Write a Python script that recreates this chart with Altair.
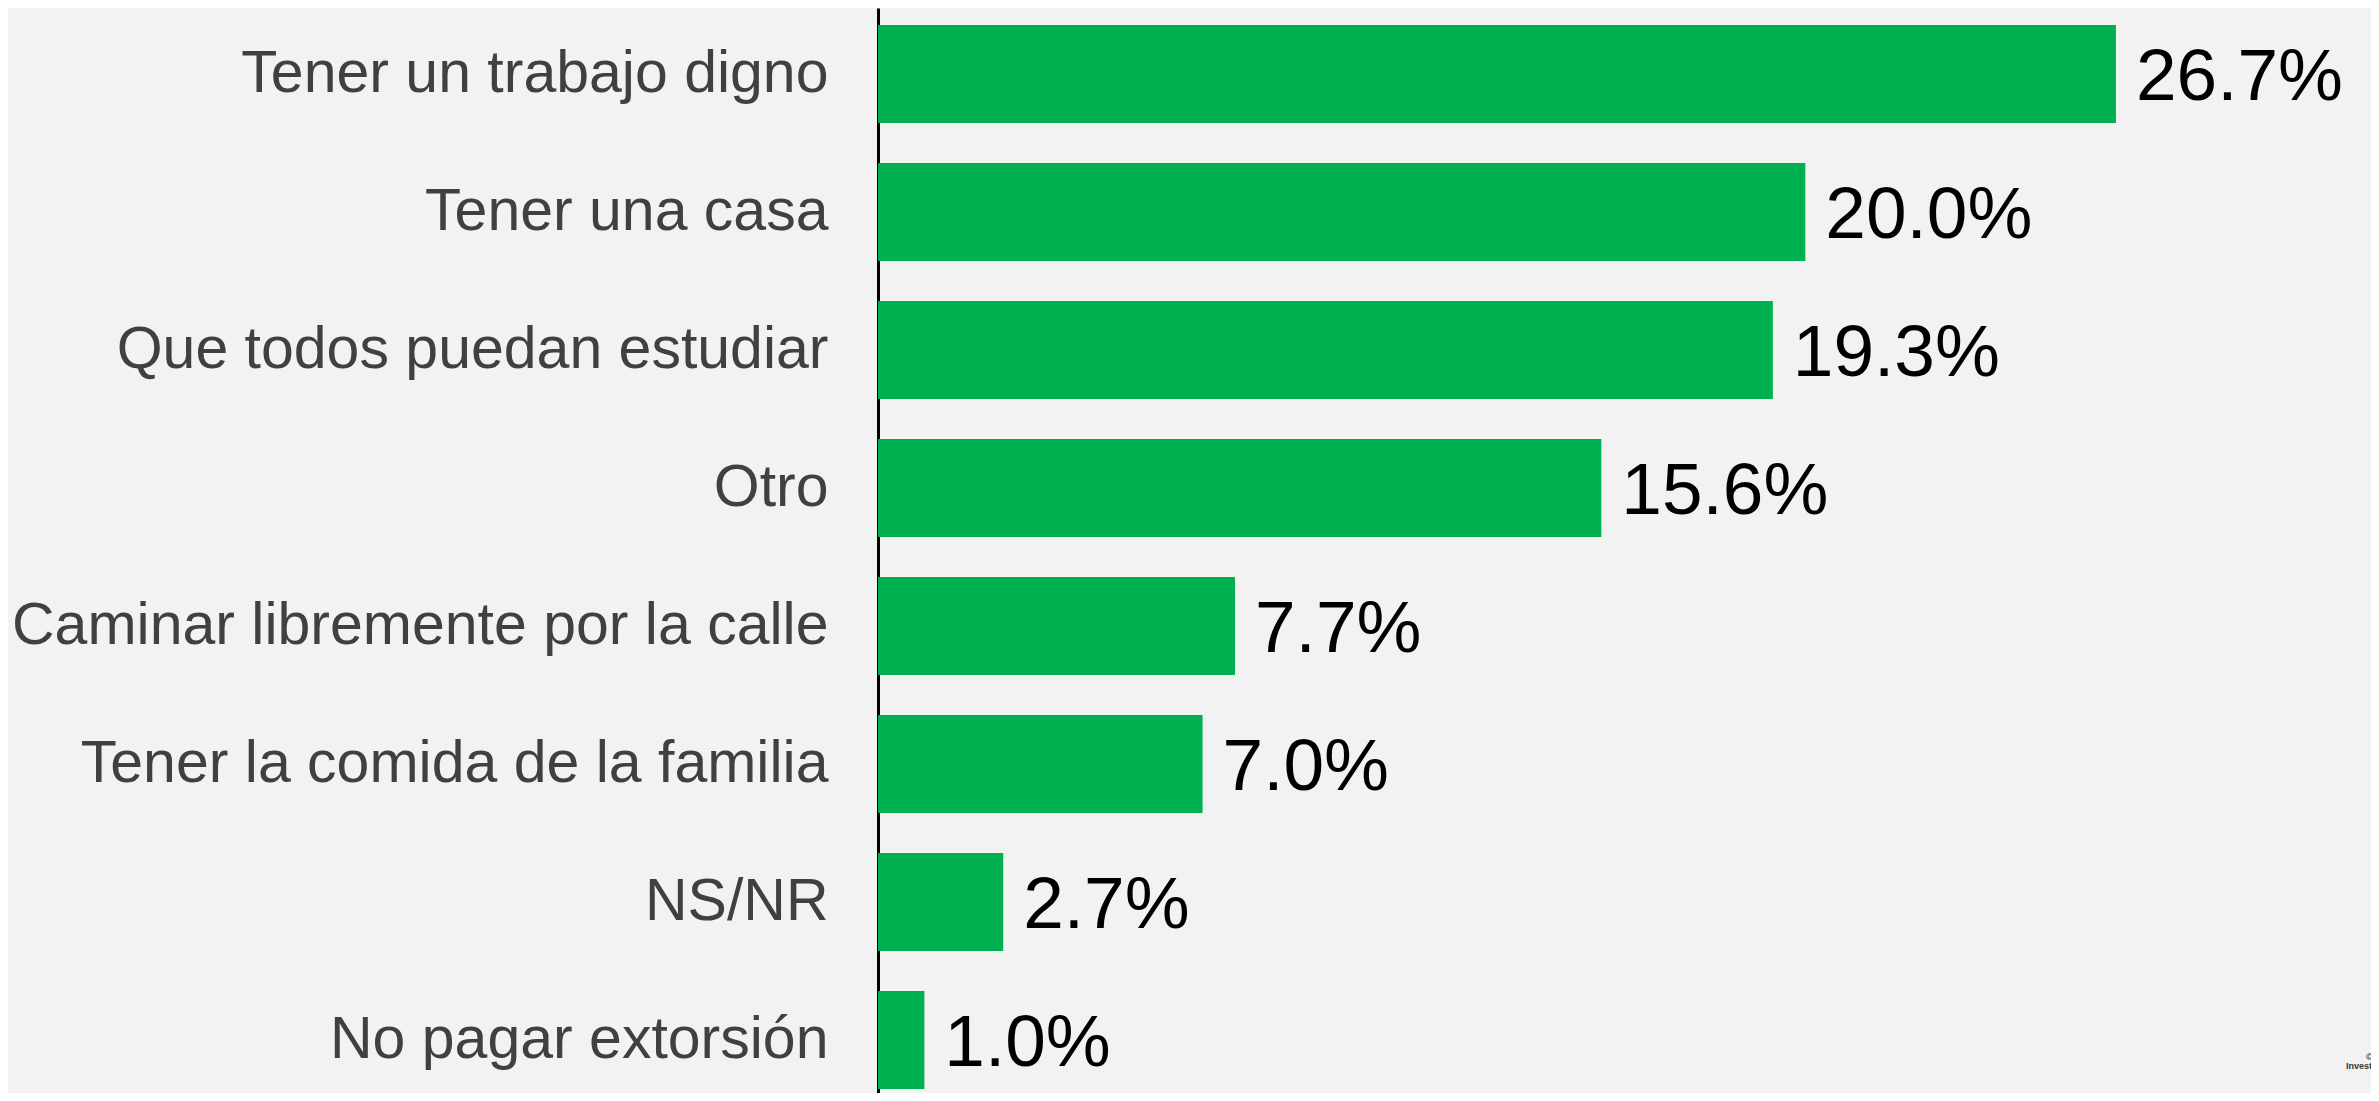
import altair as alt
import pandas as pd

categories = [
    "Tener un trabajo digno",
    "Tener una casa",
    "Que todos puedan estudiar",
    "Otro",
    "Caminar libremente por la calle",
    "Tener la comida de la familia",
    "NS/NR",
    "No pagar extorsión",
]
values = [26.7, 20.0, 19.3, 15.6, 7.7, 7.0, 2.7, 1.0]

df = pd.DataFrame({"categoria": categories, "valor": values})

W = 1480
H = 1085
XMAX = 31.92

base = alt.Chart(df).encode(
    y=alt.Y(
        "categoria:N",
        sort=categories,
        title=None,
        scale=alt.Scale(paddingInner=0.29, paddingOuter=0.076, align=0.81),
        axis=alt.Axis(
            domain=True,
            domainColor="#000000",
            domainWidth=3,
            ticks=False,
            labelFontSize=59,
            labelFont="Liberation Sans",
            labelColor="#404040",
            labelPadding=50,
            labelLimit=1000,
            grid=False,
        ),
    ),
    x=alt.X(
        "valor:Q",
        scale=alt.Scale(domain=[0, XMAX], nice=False, zero=True),
        axis=None,
    ),
)

bars = base.mark_bar(color="#00b050")

labels = base.transform_calculate(
    etiqueta="format(datum.valor, '.1f') + '%'"
).mark_text(
    align="left",
    baseline="middle",
    dx=20,
    dy=4,
    fontSize=73,
    font="Liberation Sans",
    color="#000000",
).encode(text="etiqueta:N")

wm = pd.DataFrame({"t": ["©Equipo", "Investigación"], "px": [W + 8, W - 12], "py": [H - 36, H - 27]})
watermark = alt.Chart(wm).mark_text(
    align="left", baseline="middle", fontSize=9, fontWeight="bold",
    font="Liberation Sans", color="#333333"
).encode(
    x=alt.X("px:Q", scale=None),
    y=alt.Y("py:Q", scale=None),
    text="t:N",
)

chart = alt.layer(bars, labels, watermark).properties(
    width=W,
    height=H,
    background="#f2f2f2",
    padding={"left": 870, "top": 0, "right": 13, "bottom": 0},
    autosize=alt.AutoSizeParams(type="none"),
).configure_view(stroke=None)

chart.save("out.html", embed_options={"renderer": "svg", "actions": False})
